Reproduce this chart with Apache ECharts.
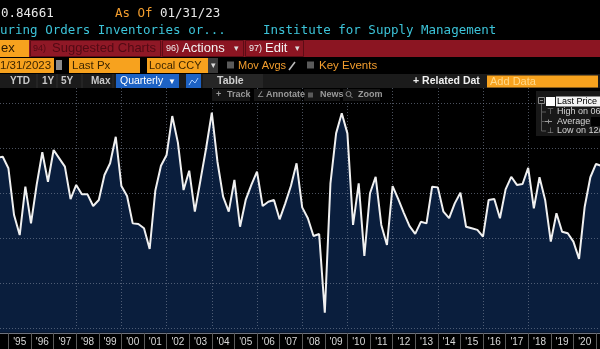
<!DOCTYPE html>
<html><head><meta charset="utf-8">
<script src="https://cdn.jsdelivr.net/npm/echarts@6/dist/echarts.min.js"></script>
<style>html,body{margin:0;padding:0;background:#000;}#c{width:600px;height:349px;}</style>
</head><body><div id="c"></div>
<script>
// ---- data (quarter-end observations) ----
const quarters = [
 '1994Q2','1994Q3','1994Q4',
 '1995Q1','1995Q2','1995Q3','1995Q4',
 '1996Q1','1996Q2','1996Q3','1996Q4',
 '1997Q1','1997Q2','1997Q3','1997Q4',
 '1998Q1','1998Q2','1998Q3','1998Q4',
 '1999Q1','1999Q2','1999Q3','1999Q4',
 '2000Q1','2000Q2','2000Q3','2000Q4',
 '2001Q1','2001Q2','2001Q3','2001Q4',
 '2002Q1','2002Q2','2002Q3','2002Q4',
 '2003Q1','2003Q2','2003Q3','2003Q4',
 '2004Q1','2004Q2','2004Q3','2004Q4',
 '2005Q1','2005Q2','2005Q3','2005Q4',
 '2006Q1','2006Q2','2006Q3','2006Q4',
 '2007Q1','2007Q2','2007Q3','2007Q4',
 '2008Q1','2008Q2','2008Q3','2008Q4',
 '2009Q1','2009Q2','2009Q3','2009Q4',
 '2010Q1','2010Q2','2010Q3','2010Q4',
 '2011Q1','2011Q2','2011Q3','2011Q4',
 '2012Q1','2012Q2','2012Q3','2012Q4',
 '2013Q1','2013Q2','2013Q3','2013Q4',
 '2014Q1','2014Q2','2014Q3','2014Q4',
 '2015Q1','2015Q2','2015Q3','2015Q4',
 '2016Q1','2016Q2','2016Q3','2016Q4',
 '2017Q1','2017Q2','2017Q3','2017Q4',
 '2018Q1','2018Q2','2018Q3','2018Q4',
 '2019Q1','2019Q2','2019Q3','2019Q4',
 '2020Q1','2020Q2','2020Q3','2020Q4',
 '2021Q1'
];
const values = [
 1.156,1.161,1.110,
 0.902,0.813,1.028,0.865,
 1.036,1.181,1.050,1.191,
 1.154,1.117,0.973,1.036,
 0.994,0.994,0.942,0.969,
 1.080,1.132,1.250,1.031,
 0.987,0.865,0.862,0.843,
 0.751,1.010,1.121,1.169,
 1.342,1.224,1.013,1.099,
 0.917,1.058,1.200,1.357,
 1.139,0.984,0.917,1.058,
 0.850,0.969,1.036,1.095,
 0.942,0.961,0.969,0.883,
 0.954,1.031,1.132,0.936,
 0.888,0.809,0.818,0.468,
 1.043,1.265,1.354,1.265,
 0.858,1.043,0.720,0.999,
 1.072,0.858,0.769,1.031,
 0.973,0.911,0.853,0.818,
 0.872,0.865,1.028,1.025,
 0.917,0.888,0.954,1.001,
 0.850,0.843,0.836,0.806,
 0.969,0.973,0.888,1.016,
 1.072,1.036,1.040,1.112,
 0.932,1.070,0.969,0.784,
 0.910,0.828,0.821,0.784,
 0.707,0.939,1.070,1.129,
 1.120
];
// year boundaries (ticks) and labels centred in each year
const tickYears = [1995,1996,1997,1998,1999,2000,2001,2002,2003,2004,2005,2006,2007,2008,
  2009,2010,2011,2012,2013,2014,2015,2016,2017,2018,2019,2020,2021];
const labelYears = [1994,1995,1996,1997,1998,1999,2000,2001,2002,2003,2004,2005,2006,2007,
  2008,2009,2010,2011,2012,2013,2014,2015,2016,2017,2018,2019,2020,2021];
const gridYears = [1996,1998,2000,2002,2004,2006,2008,2010,2012,2014,2016,2018,2020];
const X_MIN = 1994.628, X_MAX = 2021.177;   // visible window of the terminal chart
const Y_MIN = 0.4, Y_MAX = 1.46667, Y_BASE = 0.37889;

function qToYear(q){ const y = +q.slice(0,4), n = +q.slice(5); return y + n/4; }
const seriesData = quarters.map((q,i)=>[qToYear(q), values[i]]);

// ---- graphic helpers (terminal chrome) ----
const MONO = '12.5px "DejaVu Sans Mono", monospace';
const sans = (s,w) => (w||'normal') + ' ' + s + 'px "Liberation Sans", Arial, sans-serif';
function T(x,y,text,fill,font){ return {type:'text', x:x, y:y, z:100, silent:true,
  style:{text:text, fill:fill, font:font, textVerticalAlign:'middle', textAlign:'left'}}; }
function R(x,y,w,h,fill,stroke){ return {type:'rect', z:99, silent:true, shape:{x:x,y:y,width:w,height:h},
  style:{fill:fill||'none', stroke:stroke||null, lineWidth:1}}; }
function L(x1,y1,x2,y2,stroke,lw){ return {type:'line', z:100, silent:true, shape:{x1:x1,y1:y1,x2:x2,y2:y2},
  style:{stroke:stroke, lineWidth:lw||1}}; }

const ORANGE = '#f7a21e', DARKTXT = '#3d2600', AMBER = '#f29d2e', CYAN = '#3cc3d8';
const graphics = [
  // row 1
  T(1,14,'0.84661','#e8e8e8',MONO),
  T(115,14,'As Of',AMBER,MONO),
  T(160,14,'01/31/23','#e8e8e8',MONO),
  // row 2
  T(0,31,'uring Orders Inventories or...',CYAN,MONO),
  T(263,31,'Institute for Supply Management',CYAN,MONO),
  // row 3 red bar
  R(0,40,600,17,'#8b1522'),
  R(0,40,29,17,ORANGE),
  T(1,48.5,'ex','#2b1900',sans(13)),
  R(30.5,40.5,130,16,'#8f1826','#5c0c15'),
  T(33,49,'94)','#520a14',sans(9)),
  T(52,48.5,'Suggested Charts','#520a14',sans(13)),
  R(162.5,40.5,81,16,'#8b1522','#5c0c15'),
  T(166,49,'96)','#f0f0f0',sans(9)),
  T(182,48.5,'Actions','#f4f4f4',sans(13)),
  T(234,49,'\u25BE','#dddddd',sans(9)),
  R(245.5,40.5,58,16,'#8b1522','#5c0c15'),
  T(249,49,'97)','#f0f0f0',sans(9)),
  T(265,48.5,'Edit','#f4f4f4',sans(13)),
  T(295,49,'\u25BE','#dddddd',sans(9)),
  // row 4
  R(0,58,54,15,ORANGE),
  T(0,65.5,'1/31/2023',DARKTXT,sans(11.5)),
  R(56,60,6,10,'#8a8a8a'),
  R(69,58,71,15,ORANGE),
  T(72,65.5,'Last Px',DARKTXT,sans(11.5)),
  R(147,58,61,15,ORANGE),
  T(149,65.5,'Local CCY',DARKTXT,sans(11)),
  R(208,58,10,15,'#3a3a3a'),
  T(210.5,65.5,'\u25BE','#dddddd',sans(9)),
  R(227,61.5,7,7,'#5a5a5a'),
  T(238,65.5,'Mov Avgs',AMBER,sans(11)),
  L(289,70,295,62,'#bbbbbb',1.5),
  R(307,61.5,7,7,'#5a5a5a'),
  T(319,65.5,'Key Events',AMBER,sans(11.5)),
  // row 5
  R(0,74,600,14,'#1b1b1b'),
  L(37,74,37,88,'#2e2e2e'), L(57,74,57,88,'#2e2e2e'), L(82,74,82,88,'#2e2e2e'), L(113,74,113,88,'#2e2e2e'),
  T(10,81.5,'YTD','#c8c8c8',sans(10,'bold')),
  T(42,81.5,'1Y','#c8c8c8',sans(10,'bold')),
  T(61,81.5,'5Y','#c8c8c8',sans(10,'bold')),
  T(91,81.5,'Max','#c8c8c8',sans(10,'bold')),
  R(116,74,63,14,'#1d62c4'),
  T(120,81.5,'Quarterly','#ffffff',sans(10.5)),
  T(168,81.5,'\u25BC','#ffffff',sans(8)),
  R(186,74,15,14,'#1d62c4'),
  {type:'polyline', z:100, silent:true, shape:{points:[[189,85],[192,80],[195,83],[198,78]]}, style:{stroke:'#a8ccff', lineWidth:1, fill:null}},
  R(203,74,60,14,'#262626'),
  T(217,81.5,'Table','#cfcfcf',sans(10.5,'bold')),
  T(413,81.5,'+ Related Dat','#f0f0f0',sans(10.5,'bold')),
  R(487,75.5,111,12,ORANGE),
  T(490,81.5,'Add Data','#ffd98a',sans(11)),
  // row 6 chart tools
  R(212,89,38,12,'#151515'), T(216,95,'+','#9a9a9a',sans(9,'bold')), T(227,95,'Track','#9a9a9a',sans(9,'bold')),
  R(254,89,47,12,'#151515'), T(257,95,'\u2220','#9a9a9a',sans(8)), T(266,95,'Annotate','#9a9a9a',sans(9,'bold')),
  R(304,89,36,12,'#151515'), R(308,92.5,5,5,'#5a5a5a'), T(320,95,'News','#9a9a9a',sans(9,'bold')),
  R(343,89,37,12,'#151515'),
  {type:'circle', z:100, silent:true, shape:{cx:348.5,cy:94,r:2.5}, style:{stroke:'#8a8a8a', fill:null, lineWidth:1}},
  L(350.5,96,352.5,98,'#8a8a8a'),
  T(358,95,'Zoom','#9a9a9a',sans(9,'bold')),
  // legend box
  R(536,91,64,45,'#181818'),
  R(538.5,97.5,6,6,null,'#8a8a8a'),
  L(540,100.5,543,100.5,'#8a8a8a'),
  L(541.5,104,541.5,131,'#5a5a5a'),
  L(541.5,112,546,112,'#5a5a5a'), L(541.5,121.5,546,121.5,'#5a5a5a'), L(541.5,131,546,131,'#5a5a5a'),
  R(546,97,9,9,'#ffffff'),
  R(556,96.5,44,10,'#f4f4f4'),
  T(557,101.5,'Last Price','#000000',sans(9)),
  T(547,112,'\u22A4','#9a9a9a',sans(8)),
  T(557,112,'High on 06/','#d4d4d4',sans(9)),
  L(545,121.5,552,121.5,'#9a9a9a'), L(548.5,119.5,548.5,123.5,'#9a9a9a'),
  T(557,121.5,'Average','#d4d4d4',sans(9)),
  R(591,117,9,9,'#000000'),
  T(547,131,'\u22A5','#9a9a9a',sans(8)),
  T(557,131,'Low on 12/','#d4d4d4',sans(9))
];

const GRID = 'rgba(125,135,155,0.6)';
const chart = echarts.init(document.getElementById('c'), null, {renderer:'canvas'});
chart.setOption({
  backgroundColor: '#000000',
  animation: false,
  grid: { left: 0, right: 0, top: 88, bottom: 21, containLabel: false },
  xAxis: [
    { type:'value', min:X_MIN, max:X_MAX, offset:5, z:4,
      axisLine:{show:true, lineStyle:{color:'#6f7480', width:1}},
      axisTick:{show:true, customValues: tickYears, length:16, lineStyle:{color:'#5a5a5a'}},
      axisLabel:{show:true, customValues: labelYears.map(y=>y+0.5), margin:4, color:'#d8d8d8',
        fontSize:10, fontFamily:'"Liberation Sans", Arial, sans-serif',
        formatter: v => "'" + String(Math.floor(v)).slice(2)},
      splitLine:{show:false} },
    { type:'value', min:X_MIN, max:X_MAX, position:'top', z:4,
      axisLine:{show:false}, axisLabel:{show:false},
      axisTick:{show:false, customValues: gridYears},
      splitLine:{show:true, showMinLine:false, showMaxLine:false, lineStyle:{color:GRID, type:[1,2], width:1}} }
  ],
  yAxis: { type:'value', min:Y_MIN, max:Y_MAX, interval:0.2, position:'right', z:4,
    axisLine:{show:false}, axisTick:{show:false}, axisLabel:{show:false},
    splitLine:{show:true, showMaxLine:false, lineStyle:{color:GRID, type:[1,2], width:1}} },
  series: [
    { type:'line', data: seriesData, showSymbol:false, clip:false, z:1,
      lineStyle:{width:0, opacity:0},
      areaStyle:{color:'#0a1e3d', opacity:1, origin:Y_BASE} },
    { type:'line', data: seriesData, showSymbol:false, clip:false, z:6,
      lineStyle:{color:'#f0f0f0', width:2} }
  ],
  graphic: graphics
});
</script></body></html>
